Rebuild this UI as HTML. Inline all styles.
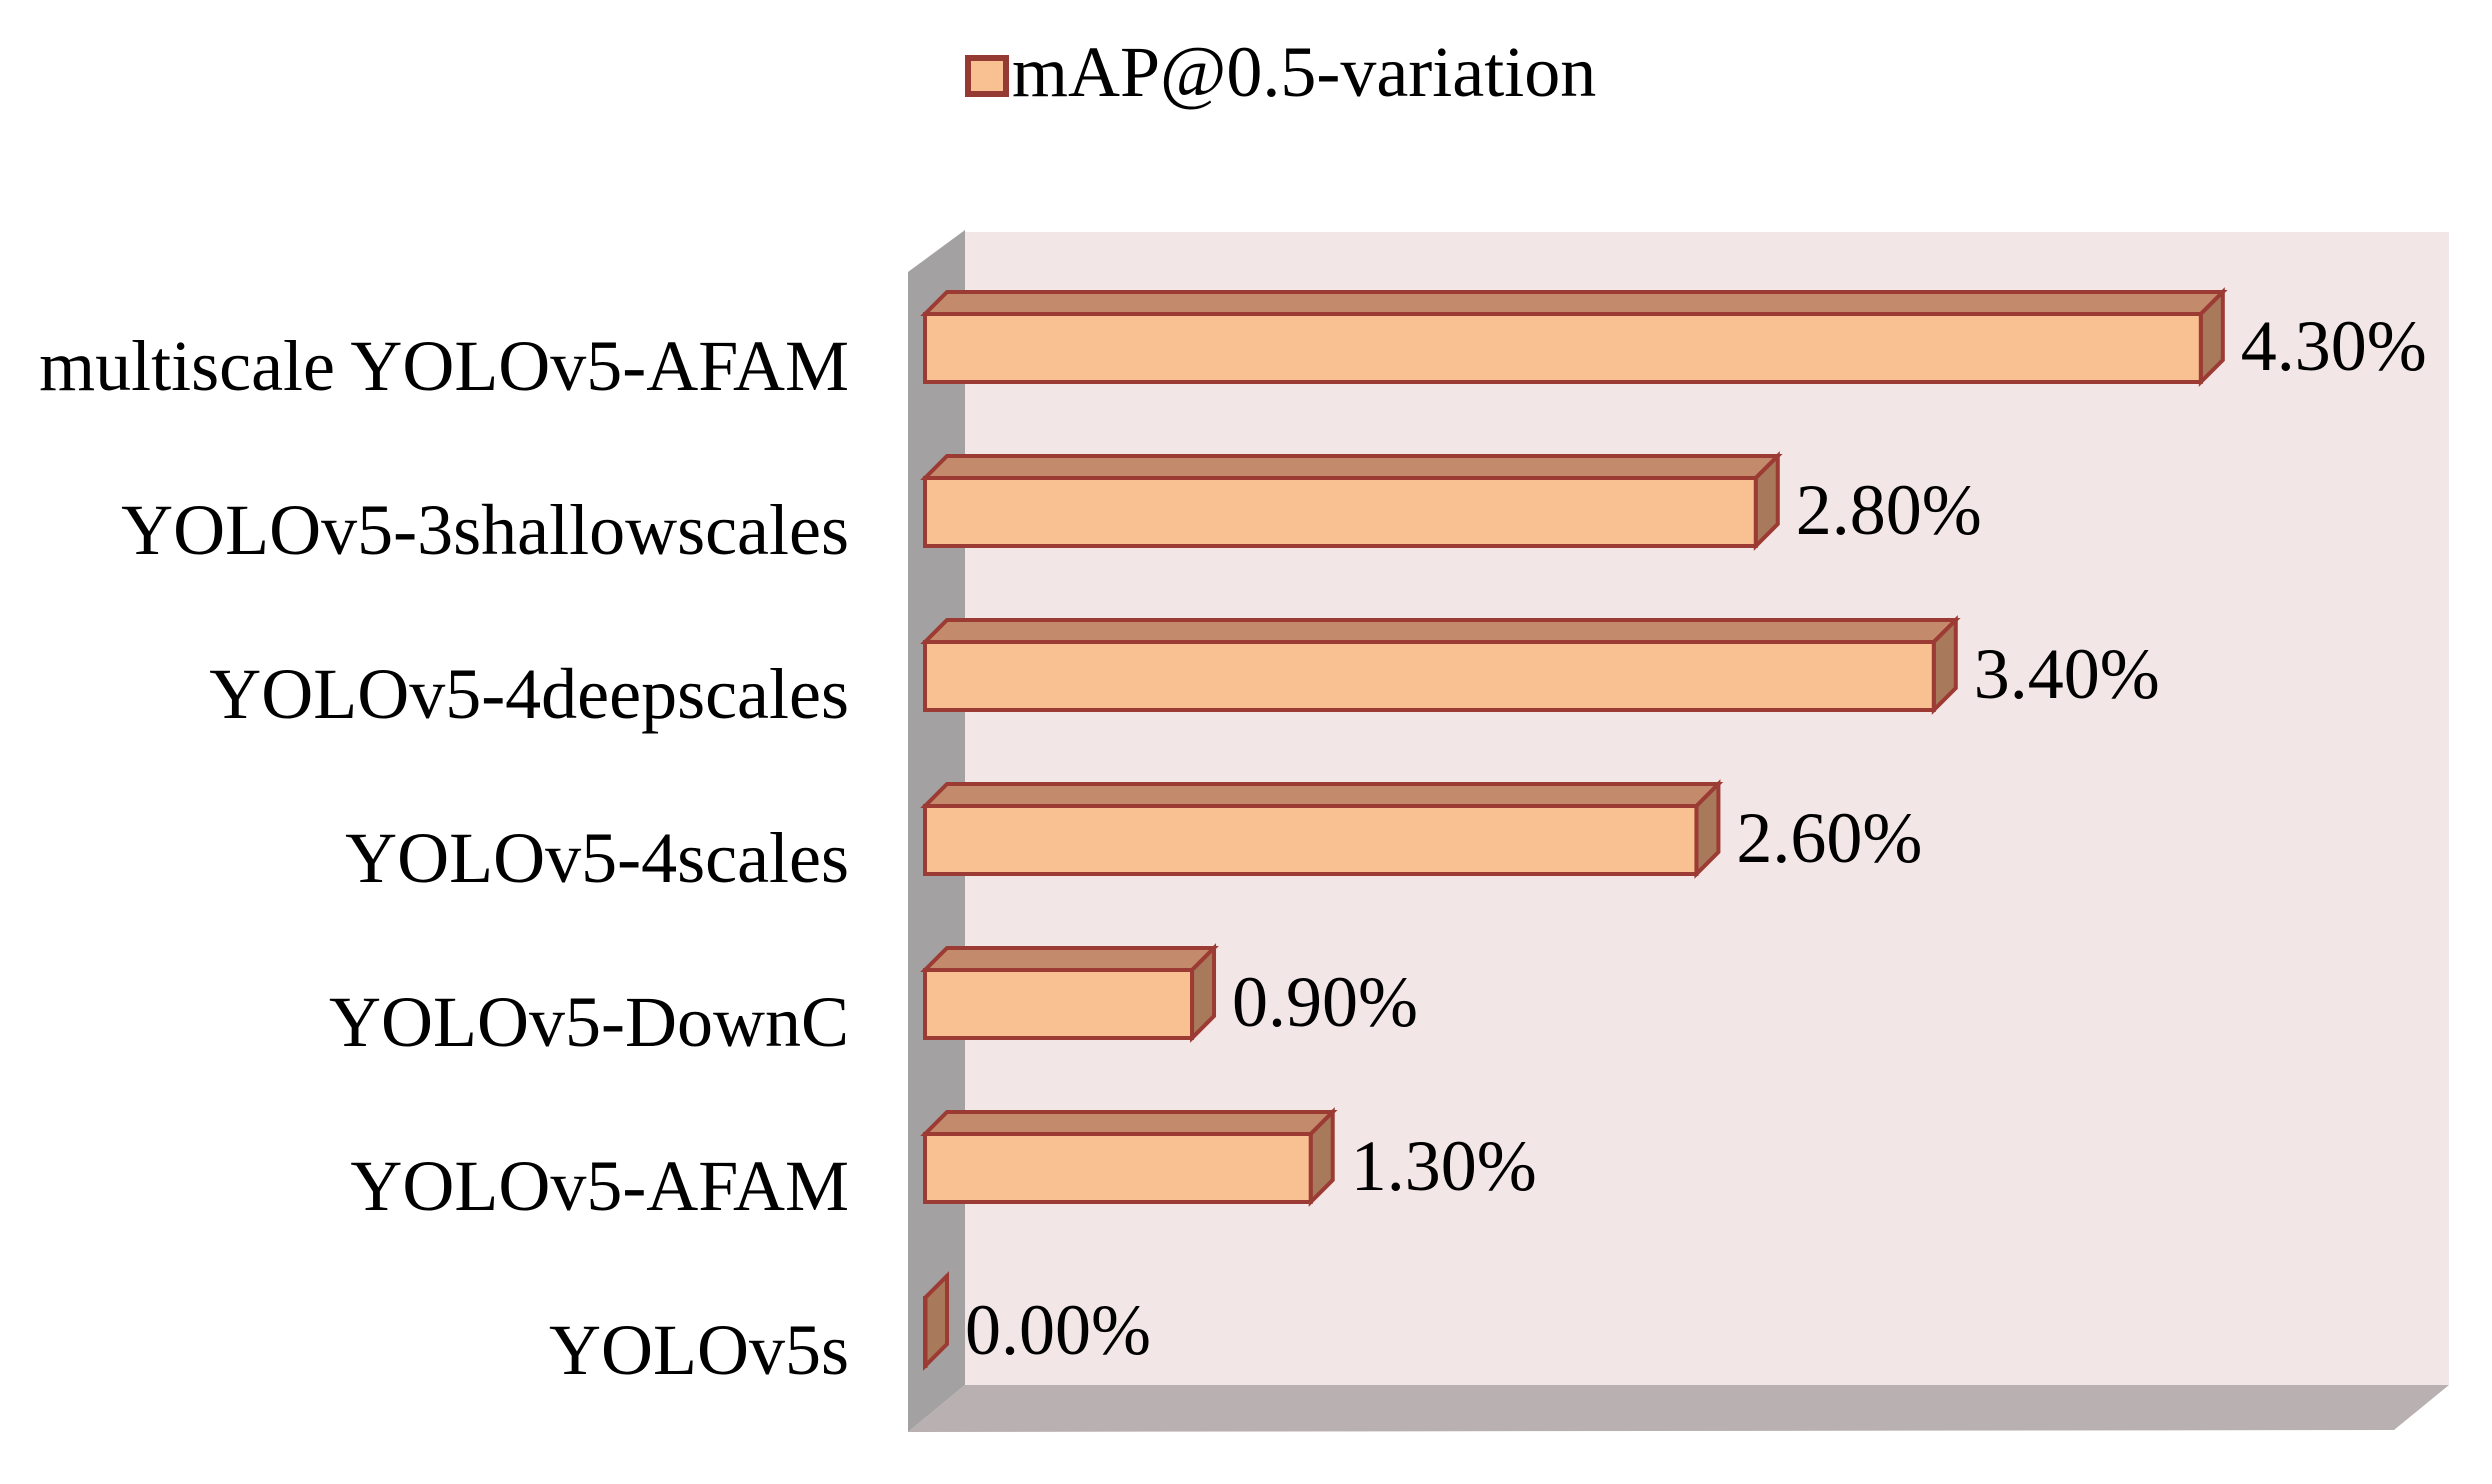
<!DOCTYPE html>
<html><head><meta charset="utf-8"><style>
html,body{margin:0;padding:0;background:#fff;}
svg{display:block;font-family:"Liberation Serif",serif;}
</style></head><body>
<svg id="chart" width="2492" height="1484" viewBox="0 0 2492 1484">
  <polygon points="965,232 2449,232 2449,1385 965,1385" fill="#f3e6e6"/>
  <polygon points="908,272 965,230 965,1385 908,1432" fill="#a3a1a1"/>
  <polygon points="965,1385 2449,1385 2394,1430 908,1432" fill="#b9b0b1"/>
  <g id="bars"></g>
  <g>
    <rect x="968" y="58" width="38" height="36" fill="#f9c192" stroke="#943a33" stroke-width="6"/>
    <text x="1012" y="96" font-size="72" fill="#000">mAP@0.5-variation</text>
  </g>
</svg>
<script>
const categories = ["multiscale YOLOv5-AFAM","YOLOv5-3shallowscales","YOLOv5-4deepscales","YOLOv5-4scales","YOLOv5-DownC","YOLOv5-AFAM","YOLOv5s"];
const values = [4.30, 2.80, 3.40, 2.60, 0.90, 1.30, 0.00];
const valueLabels = ["4.30%","2.80%","3.40%","2.60%","0.90%","1.30%","0.00%"];

const x0 = 925, pxPerUnit = 296.7;
function xScale(v){ return x0 + v * pxPerUnit; }
function yCenter(i){ return 348 + i * 164; }
const barH = 68, dep = 22;
const NS = "http://www.w3.org/2000/svg";
const g = document.getElementById('bars');
function mk(tag, attrs){ const e = document.createElementNS(NS, tag); for (const k in attrs) e.setAttribute(k, attrs[k]); return e; }

categories.forEach((c, i) => {
  const cy = yCenter(i), top = cy - barH/2, bot = cy + barH/2;
  const xl = xScale(0), xr = xScale(values[i]);
  const grp = mk('g', {});
  
  
  const topFace = mk('polygon', {points: `${xl},${top} ${xl+dep},${top-dep} ${xr+dep},${top-dep} ${xr},${top}`, fill:'#c38b6c', stroke:'#9c3b34', 'stroke-width':4});
  
  
  const side = mk('polygon', {points: `${xr},${top} ${xr+dep},${top-dep} ${xr+dep},${bot-dep} ${xr},${bot}`, fill:'#a9795b', stroke:'#9c3b34', 'stroke-width':4});
  
  
  const front = mk('rect', {x:xl, y:top, width:Math.max(xr-xl,0.5), height:barH, fill:'#f9c192', stroke:'#9c3b34', 'stroke-width':4});
  
  
  grp.appendChild(topFace); grp.appendChild(side); grp.appendChild(front);
  g.appendChild(grp);

  const lab = mk('text', {x:849, y:cy+42, 'font-size':72, 'text-anchor':'end', fill:'#000'});
  lab.textContent = c;
  
  
  g.appendChild(lab);

  const vl = mk('text', {x:xr+dep+18, y:cy+22, 'font-size':72, fill:'#000'});
  vl.textContent = valueLabels[i];
  
  
  g.appendChild(vl);
});
</script>
</body></html>
